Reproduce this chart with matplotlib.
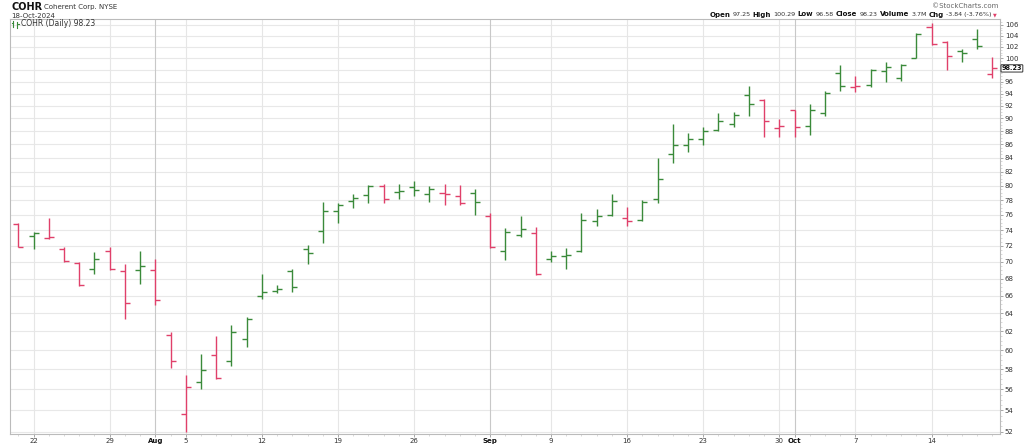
import matplotlib
matplotlib.use("Agg")
import matplotlib.pyplot as plt
from matplotlib.ticker import FixedLocator, FixedFormatter, NullFormatter, MultipleLocator
from matplotlib.lines import Line2D
import pandas as pd
import numpy as np

# ---------------- data ----------------
dates = [d for d in pd.bdate_range("2024-07-19", "2024-10-18") if d != pd.Timestamp("2024-09-02")]

opens = [74.8, 73.3, 73.0, 71.6, 69.9, 69.2, 71.3, 68.9, 69.0, 69.0,
         61.6, 53.6, 56.7, 59.5, 58.9, 61.2, 65.9, 66.5, 68.9, 71.6,
         73.9, 76.5, 77.9, 78.7, 79.9, 79.1, 79.8, 78.9, 79.0, 78.6,
         79.0, 75.9, 71.3, 73.4, 73.7, 70.4, 70.75, 71.3, 75.2, 76.0,
         75.6, 75.4, 78.1, 84.6, 85.85, 86.75, 88.2, 89.1, 93.7, 93.0,
         88.45, 91.3, 88.8, 90.8, 97.4, 95.1, 95.4, 97.8, 96.6, 100.1,
         105.7, 102.8, 101.25, 103.5, 97.25]
highs = [74.9, 73.8, 75.6, 71.9, 70.0, 71.2, 71.8, 69.7, 71.4, 70.4,
         61.9, 57.4, 59.6, 61.5, 62.7, 63.6, 68.6, 67.2, 69.2, 72.1,
         77.8, 77.6, 78.9, 80.1, 80.2, 80.2, 80.7, 79.9, 80.3, 80.1,
         79.6, 76.3, 74.3, 75.8, 74.4, 71.4, 71.7, 76.2, 76.8, 78.9,
         77.1, 78.0, 83.9, 89.1, 87.7, 88.7, 90.8, 91.0, 95.2, 93.1,
         89.9, 91.35, 92.3, 94.35, 98.85, 96.85, 98.15, 99.4, 99.0, 104.5,
         106.3, 103.1, 101.6, 105.3, 100.29]
lows = [71.8, 71.6, 72.9, 70.0, 67.1, 68.5, 69.0, 63.3, 67.3, 64.9,
        58.1, 52.0, 56.0, 57.0, 58.3, 60.3, 65.6, 66.3, 66.4, 69.8,
        72.4, 74.9, 77.0, 77.6, 77.6, 78.1, 78.5, 77.7, 77.4, 77.4,
        76.0, 71.7, 70.3, 73.1, 68.4, 70.0, 69.1, 71.2, 74.5, 75.9,
        74.5, 75.25, 77.6, 83.3, 84.8, 85.9, 88.1, 88.7, 90.4, 87.1,
        87.1, 87.1, 87.45, 90.3, 94.45, 94.25, 95.15, 96.0, 96.1, 100.0,
        102.35, 98.0, 99.4, 101.6, 96.58]
closes = [71.9, 73.6, 73.1, 70.1, 67.2, 70.4, 69.1, 65.1, 69.5, 65.5,
          58.9, 56.2, 57.9, 57.1, 61.9, 63.3, 66.4, 66.8, 67.0, 71.1,
          76.5, 77.4, 78.3, 80.0, 78.1, 79.3, 79.4, 79.5, 78.8, 77.6,
          77.8, 71.8, 73.8, 74.2, 68.5, 70.7, 70.85, 75.3, 75.9, 77.9,
          75.2, 77.8, 80.9, 85.9, 86.8, 88.05, 89.6, 90.6, 92.3, 89.65,
          88.8, 88.6, 91.35, 94.05, 95.3, 95.2, 98.0, 98.5, 98.85, 104.3,
          102.5, 100.4, 100.85, 102.07, 98.23]

yticks = list(range(52, 107, 2))
last_price = 98.23

UP = "#3a8a3a"
DOWN = "#e0406a"

# ---------------- figure ----------------
W, H = 1024, 446
fig = plt.figure(figsize=(W / 100, H / 100), dpi=100)
ax = fig.add_axes([10 / W, (H - 434) / H, (1000 - 10) / W, (434 - 19) / H])

x = np.arange(len(dates))
colors = []
for i in range(len(closes)):
    if i == 0:
        up = closes[i] >= opens[i]
    else:
        up = closes[i] >= closes[i - 1]
    colors.append(UP if up else DOWN)

tw = 0.33
ax.vlines(x, lows, highs, colors=colors, lw=1.0, zorder=3)
ax.hlines(opens, x - tw, x, colors=colors, lw=1.0, zorder=3)
ax.hlines(closes, x, x + tw, colors=colors, lw=1.0, zorder=3)

ax.set_yscale("log")
ax.set_ylim(51.8, 107.1)
ax.set_xlim(-0.55, len(dates) - 0.5)

ax.yaxis.set_major_locator(FixedLocator(yticks))
ax.yaxis.set_major_formatter(FixedFormatter([("" if v == 98 else str(v)) for v in yticks]))
ax.yaxis.set_minor_locator(FixedLocator(list(np.arange(52, 107, 0.5))))
ax.yaxis.set_minor_formatter(NullFormatter())
ax.yaxis.tick_right()
ax.tick_params(axis="y", which="major", labelsize=5, labelcolor="#333333", length=2,
               color="#999999", pad=1.5, width=0.6)
ax.tick_params(axis="y", which="minor", length=1.2, color="#bbbbbb", width=0.4)

# x labels: month at first trading day of month, day number on Mondays
xt, xl, months = [], [], []
for i, d in enumerate(dates):
    if i > 0 and d.month != dates[i - 1].month:
        xt.append(i); xl.append(d.strftime("%b")); months.append(True)
    elif d.weekday() == 0:
        xt.append(i); xl.append(str(d.day)); months.append(False)
ax.set_xticks(xt)
ax.set_xticklabels(xl)
for lab, m in zip(ax.get_xticklabels(), months):
    lab.set_fontweight("bold" if m else "normal")
    lab.set_color("#111111" if m else "#333333")
ax.xaxis.set_minor_locator(MultipleLocator(1))
ax.tick_params(axis="x", which="major", labelsize=5, length=2, color="#999999", pad=1, width=0.6)
ax.tick_params(axis="x", which="minor", length=1.5, color="#bbbbbb", width=0.4)

# grid
for v in yticks:
    ax.axhline(v, color="#e8e8e8", lw=0.8, zorder=1)
for t, m in zip(xt, months):
    ax.axvline(t, color="#c8c8c8" if m else "#e6e6e6", lw=0.8, zorder=1)

for s in ax.spines.values():
    s.set_color("#bbbbbb")
    s.set_linewidth(0.8)

# last price box
ax.annotate(f"{last_price:.2f}", xy=(1.0, last_price), xycoords=("axes fraction", "data"),
            xytext=(1.2, 0), textcoords="offset points", fontsize=4.7, fontweight="bold",
            color="#111111", va="center", ha="left",
            bbox=dict(boxstyle="round,pad=0.1", fc="white", ec="#333333", lw=0.7),
            annotation_clip=False, zorder=5)

# ---------------- header texts ----------------
def fx(px):
    return px / W

def fy(py):
    return 1 - py / H

renderer = fig.canvas.get_renderer()

def runs(x0, y0, items, gap=2.2):
    xx = x0
    for s, bold, size, col in items:
        t = fig.text(fx(xx), fy(y0), s, fontsize=size, fontweight="bold" if bold else "normal",
                     color=col, va="center", ha="left", family="DejaVu Sans")
        bb = t.get_window_extent(renderer)
        xx += bb.width + gap
    return xx

runs(11, 7, [("COHR", True, 7, "#111111"), ("Coherent Corp. NYSE", False, 5, "#333333")], gap=2)
fig.text(fx(11), fy(15.5), "18-Oct-2024", fontsize=5, color="#333333", va="center", ha="left")

fig.text(fx(998), fy(6), "\u00a9StockCharts.com", fontsize=5, color="#666666", va="center", ha="right")

items = [("Open", True, 5, "#111111"), ("97.25", False, 4.6, "#333333"),
         ("High", True, 5, "#111111"), ("100.29", False, 4.6, "#333333"),
         ("Low", True, 5, "#111111"), ("96.58", False, 4.6, "#333333"),
         ("Close", True, 5, "#111111"), ("98.23", False, 4.6, "#333333"),
         ("Volume", True, 5, "#111111"), ("3.7M", False, 4.6, "#333333"),
         ("Chg", True, 5, "#111111"), ("-3.84 (-3.76%)", False, 4.6, "#333333")]
total = 0
for s, bold, size, col in items:
    t = fig.text(0, 0, s, fontsize=size, fontweight="bold" if bold else "normal", family="DejaVu Sans")
    total += t.get_window_extent(renderer).width + 2.2
    t.remove()
end_x = runs(994 - total, 14.5, items)
fig.text(fx(end_x - 1), fy(15), "\u25bc", fontsize=3.5, color=DOWN, va="center", ha="left")

# legend inside plot
fig.add_artist(Line2D([fx(13), fx(13)], [fy(21), fy(27)], color=UP, lw=0.8, transform=fig.transFigure))
fig.add_artist(Line2D([fx(11.5), fx(13)], [fy(23), fy(23)], color=UP, lw=0.8, transform=fig.transFigure))
fig.add_artist(Line2D([fx(17), fx(17)], [fy(22), fy(28)], color=UP, lw=0.8, transform=fig.transFigure))
fig.add_artist(Line2D([fx(17), fx(18.5)], [fy(24), fy(24)], color=UP, lw=0.8, transform=fig.transFigure))
fig.text(fx(21), fy(24), "COHR (Daily) 98.23", fontsize=5.5, color="#333333", va="center", ha="left")

fig.savefig("out.png", dpi=100)
